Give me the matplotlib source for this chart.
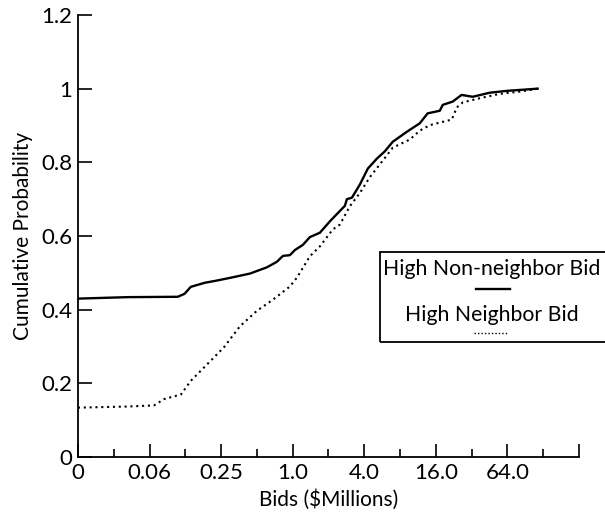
import matplotlib
matplotlib.use("Agg")
import matplotlib.pyplot as plt
from matplotlib.lines import Line2D
from matplotlib.patches import Rectangle
from matplotlib.ticker import FixedLocator, FixedFormatter

plt.rcParams["font.family"] = ["Lato", "DejaVu Sans"]

# bids in $ millions, cumulative probability
non_neighbor_bid = [0.0156, 0.041, 0.108, 0.123, 0.139, 0.182, 0.230, 0.314, 0.437,
                    0.607, 0.736, 0.827, 0.947, 1.044, 1.218, 1.394, 1.694, 2.057,
                    2.494, 2.748, 2.856, 3.148, 3.676, 4.285, 5.10, 5.96, 6.95, 9.13,
                    11.72, 13.65, 17.26, 18.29, 22.2, 26.3, 32.7, 45.4, 63.0, 114.9]
non_neighbor_cdf = [0.430, 0.434, 0.435, 0.443, 0.462, 0.473, 0.479, 0.488, 0.498,
                    0.515, 0.530, 0.546, 0.548, 0.562, 0.576, 0.597, 0.609, 0.640,
                    0.668, 0.682, 0.700, 0.704, 0.740, 0.783, 0.810, 0.830, 0.856, 0.883,
                    0.906, 0.933, 0.940, 0.956, 0.965, 0.983, 0.978, 0.989, 0.994, 1.000]

neighbor_bid = [0.0156, 0.0403, 0.068, 0.0826, 0.115, 0.139, 0.182, 0.264, 0.360,
                0.500, 0.681, 0.947, 1.085, 1.394, 1.694, 2.177, 2.494, 3.027, 3.676,
                4.46, 5.73, 6.95, 9.67, 11.72, 14.24, 17.26, 21.8, 24.0, 27.0, 37.5,
                55.3, 81.4, 114.9]
neighbor_cdf = [0.134, 0.137, 0.140, 0.157, 0.170, 0.207, 0.245, 0.298, 0.355,
                0.397, 0.427, 0.463, 0.487, 0.545, 0.572, 0.618, 0.631, 0.681, 0.717,
                0.760, 0.805, 0.840, 0.862, 0.886, 0.901, 0.908, 0.916, 0.949, 0.963, 0.974,
                0.986, 0.992, 1.000]

x_ticks = [4.0 ** k for k in range(-3, 5)]
x_labels = ["0", "0.06", "0.25", "1.0", "4.0", "16.0", "64.0", ""]
x_minor = [2 * 4.0 ** k for k in range(-3, 4)]
y_ticks = [0, 0.2, 0.4, 0.6, 0.8, 1.0, 1.2]
y_labels = ["0", "0.2", "0.4", "0.6", "0.8", "1", "1.2"]

fig = plt.figure(figsize=(6.05, 5.15), dpi=100)
ax = fig.add_axes([78 / 605, 58 / 515, 501 / 605, 442 / 515])

ax.plot(non_neighbor_bid, non_neighbor_cdf, color="black", lw=1.7)
ax.plot(neighbor_bid, neighbor_cdf, color="black", lw=1.5, ls=(0, (1, 1.8)))

ax.set_xscale("log", base=4)
ax.set_xlim(x_ticks[0], x_ticks[-1])
ax.set_ylim(0, 1.2)
ax.xaxis.set_major_locator(FixedLocator(x_ticks))
ax.xaxis.set_major_formatter(FixedFormatter(x_labels))
ax.xaxis.set_minor_locator(FixedLocator(x_minor))
ax.xaxis.set_minor_formatter(FixedFormatter([""] * len(x_minor)))
ax.set_yticks(y_ticks)
ax.set_yticklabels(y_labels)

for s in ("top", "right"):
    ax.spines[s].set_visible(False)
for s in ("left", "bottom"):
    ax.spines[s].set_linewidth(1.3)

ax.tick_params(axis="x", which="major", direction="in", length=9.5, width=1.2,
               labelsize=16, pad=4)
ax.tick_params(axis="x", which="minor", direction="in", length=6, width=1.2)
ax.tick_params(axis="y", direction="in", length=10, width=1.2, labelsize=16, pad=4)

ax.set_xlabel("Bids ($Millions)", fontsize=15, labelpad=5)
ax.set_ylabel("Cumulative Probability", fontsize=15, labelpad=6)

# legend box with text above each line sample
tf = fig.transFigure
fig.patches.append(Rectangle((380 / 605, 1 - 342 / 515), 240 / 605, 90 / 515,
                             transform=tf, fill=False, lw=1.3, ec="black",
                             clip_on=False))
fig.text(492 / 605, 1 - 269 / 515, "High Non-neighbor Bid", ha="center",
         va="center", fontsize=15.3)
fig.lines.append(Line2D([476 / 605, 510 / 605], [1 - 289 / 515] * 2,
                        transform=tf, color="black", lw=1.7))
fig.text(492 / 605, 1 - 315 / 515, "High Neighbor Bid", ha="center",
         va="center", fontsize=15.3)
fig.lines.append(Line2D([474 / 605, 508 / 605], [1 - 333 / 515] * 2,
                        transform=tf, color="black", lw=1.0, ls=(0, (1, 1.5))))

fig.savefig("out.png", dpi=100)
